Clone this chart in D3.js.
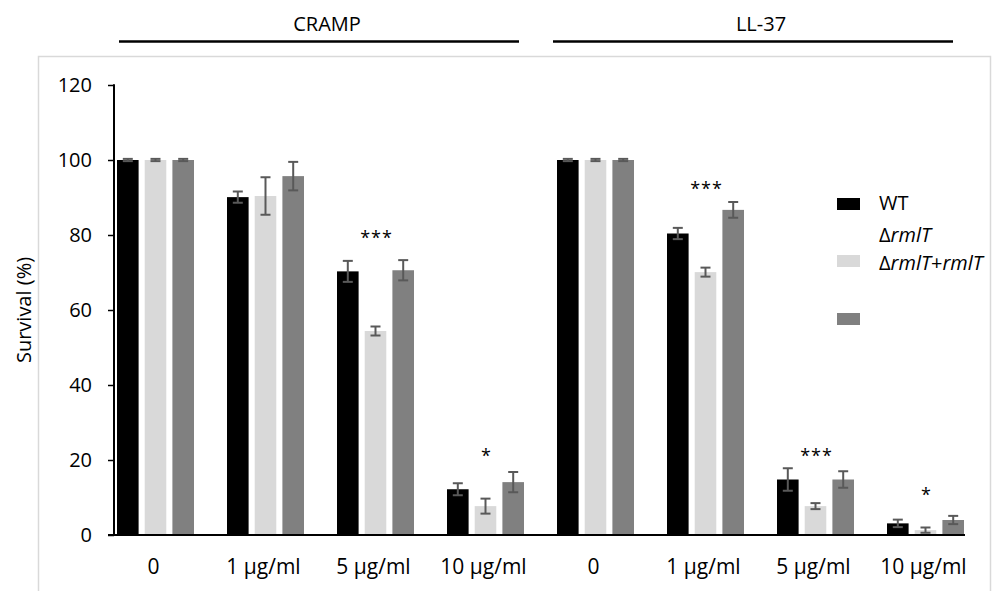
<!DOCTYPE html>
<html>
<head>
<meta charset="utf-8">
<script src="https://cdn.jsdelivr.net/npm/d3@7"></script>
<style>
  body { margin: 0; background: #fff; }
  svg { font-family: "Open Sans", "Noto Sans", sans-serif; }
</style>
</head>
<body>
<svg id="chart" width="995" height="591"></svg>
<script>
const peptides = ["CRAMP", "LL-37"];
const doses = ["0", "1 µg/ml", "5 µg/ml", "10 µg/ml"];
const strains = ["WT", "ΔrmlT", "ΔrmlT+rmlT"];

// survival (%) per group: CRAMP 0,1,5,10 then LL-37 0,1,5,10
const wtValues = [100, 90.1, 70.3, 12.2, 100, 80.4, 14.8, 3.1];
const mutValues = [100, 90.4, 54.4, 7.7, 100, 70.1, 7.7, 1.3];
const compValues = [100, 95.7, 70.6, 14.1, 100, 86.7, 14.8, 4.0];
const wtErr = [0.3, 1.5, 2.8, 1.6, 0.3, 1.5, 3.0, 1.0];
const mutErr = [0.3, 5.0, 1.2, 2.0, 0.3, 1.2, 0.8, 0.7];
const compErr = [0.3, 3.8, 2.7, 2.7, 0.3, 2.1, 2.2, 1.1];

const stars = ["", "", "***", "*", "", "***", "***", "*"];
const starLevels = [null, null, 80.3, 22.1, null, 93.3, 22.1, 11.7];
const yTicks = [0, 20, 40, 60, 80, 100, 120];

const colors = ["#000000", "#d9d9d9", "#808080"];

const groups = peptides.flatMap((p) => doses.map((d) => ({ peptide: p, dose: d })));
groups.forEach((g, i) => {
  g.id = i;
  g.values = [wtValues[i], mutValues[i], compValues[i]];
  g.errs = [wtErr[i], mutErr[i], compErr[i]];
  g.star = stars[i];
  g.starLevel = starLevels[i];
});

const svg = d3.select("#chart");

const y = d3.scaleLinear().domain([0, 120]).range([535, 85]);
const x0 = d3
  .scaleBand()
  .domain(groups.map((g) => g.id))
  .range([117, 964])
  .paddingInner(0.3)
  .paddingOuter(0);
const x1 = d3
  .scaleBand()
  .domain(d3.range(strains.length))
  .range([0, x0.bandwidth()])
  .paddingInner(0.22);

// outer frame
svg
  .append("rect")
  .attr("x", 38.5)
  .attr("y", 56.5)
  .attr("width", 952)
  .attr("height", 600)
  .attr("fill", "none")
  .attr("stroke", "#d9d9d9")
  .attr("stroke-width", 1.5);

// peptide headers
peptides.forEach((p, pi) => {
  const ids = groups.filter((g) => g.peptide === p).map((g) => g.id);
  const xa = x0(ids[0]) + (pi === 0 ? 2 : -4);
  const xb = x0(ids[ids.length - 1]) + x0.bandwidth() - (pi === 0 ? 5 : 11);
  svg
    .append("line")
    .attr("x1", xa)
    .attr("x2", xb)
    .attr("y1", 41.5)
    .attr("y2", 41.5)
    .attr("stroke", "#000")
    .attr("stroke-width", 2.5);
  svg
    .append("text")
    .attr("x", (xa + xb) / 2 + 8)
    .attr("y", 31)
    .attr("text-anchor", "middle")
    .attr("font-size", 20)
    .attr("fill", "#000")
    .text(p);
});

// y axis
const yAxis = svg
  .append("g")
  .attr("transform", "translate(114,0)")
  .call(d3.axisLeft(y).tickValues(yTicks).tickSize(6).tickPadding(16));
yAxis.select(".domain").remove();
yAxis.selectAll("line").attr("stroke", "#000").attr("stroke-width", 1.5);
yAxis
  .selectAll("text")
  .attr("font-size", 20)
  .attr("fill", "#000")
  .style("font-family", "Open Sans");
svg
  .append("line")
  .attr("x1", 114)
  .attr("x2", 114)
  .attr("y1", y(120) - 0.75)
  .attr("y2", y(0))
  .attr("stroke", "#000")
  .attr("stroke-width", 2);

svg
  .append("text")
  .attr("transform", "translate(31," + y(60) + ") rotate(-90)")
  .attr("text-anchor", "middle")
  .attr("font-size", 20)
  .attr("fill", "#000")
  .text("Survival (%)");

// bars
const gGroups = svg
  .selectAll(".grp")
  .data(groups)
  .enter()
  .append("g")
  .attr("class", "grp")
  .attr("transform", (d) => "translate(" + x0(d.id) + ",0)");

gGroups
  .selectAll("rect")
  .data((d) => d.values.map((v, k) => ({ k, v, e: d.errs[k] })))
  .enter()
  .append("rect")
  .attr("x", (d) => x1(d.k))
  .attr("y", (d) => y(d.v))
  .attr("width", x1.bandwidth())
  .attr("height", (d) => y(0) - y(d.v))
  .attr("fill", (d) => colors[d.k]);

// error bars
const errs = gGroups
  .selectAll(".err")
  .data((d) => d.values.map((v, k) => ({ k, v, e: d.errs[k] })))
  .enter()
  .append("g")
  .attr("class", "err")
  .attr("stroke", "#595959")
  .attr("stroke-width", 2);
errs
  .append("line")
  .attr("x1", (d) => x1(d.k) + x1.bandwidth() / 2)
  .attr("x2", (d) => x1(d.k) + x1.bandwidth() / 2)
  .attr("y1", (d) => y(d.v + d.e))
  .attr("y2", (d) => y(d.v - d.e));
[1, -1].forEach((s) => {
  errs
    .append("line")
    .attr("x1", (d) => x1(d.k) + x1.bandwidth() / 2 - 5)
    .attr("x2", (d) => x1(d.k) + x1.bandwidth() / 2 + 5)
    .attr("y1", (d) => y(d.v + s * d.e))
    .attr("y2", (d) => y(d.v + s * d.e));
});

// x axis
svg
  .append("line")
  .attr("x1", 108)
  .attr("x2", x0(groups.length - 1) + x0.bandwidth() + 1)
  .attr("y1", y(0))
  .attr("y2", y(0))
  .attr("stroke", "#000")
  .attr("stroke-width", 2);

svg
  .selectAll(".xlab")
  .data(groups)
  .enter()
  .append("text")
  .attr("class", "xlab")
  .attr("x", (d) => x0(d.id) + x0.bandwidth() / 2 - 2)
  .attr("y", 574)
  .attr("text-anchor", "middle")
  .attr("font-size", 21)
  .attr("fill", "#000")
  .text((d) => d.dose);

// significance stars
svg
  .selectAll(".star")
  .data(groups.filter((g) => g.star))
  .enter()
  .append("text")
  .attr("class", "star")
  .attr("x", (d) => x0(d.id) + x0.bandwidth() / 2 + 1)
  .attr("y", (d) => y(d.starLevel) + 10)
  .attr("text-anchor", "middle")
  .attr("font-size", 18)
  .attr("letter-spacing", 1)
  .attr("fill", "#000")
  .text((d) => d.star);

// legend (labels sit offset from their swatches, as in the original)
const swatchY = [198, 255, 313];
const labelY = [210, 242, 270];
svg
  .selectAll(".sw")
  .data(strains)
  .enter()
  .append("rect")
  .attr("x", 837)
  .attr("y", (d, i) => swatchY[i])
  .attr("width", 23)
  .attr("height", 12)
  .attr("fill", (d, i) => colors[i]);

const leg = svg
  .selectAll(".lt")
  .data(strains)
  .enter()
  .append("text")
  .attr("x", 879)
  .attr("y", (d, i) => labelY[i])
  .attr("font-size", 20)
  .attr("fill", "#000");
leg.each(function (d) {
  const t = d3.select(this);
  if (d === "WT") {
    t.text(d);
    return;
  }
  d.split(/(rmlT)/).filter((s) => s).forEach((part) => {
    t.append("tspan")
      .attr("font-style", part === "rmlT" ? "italic" : "normal")
      .text(part);
  });
});
</script>
</body>
</html>
